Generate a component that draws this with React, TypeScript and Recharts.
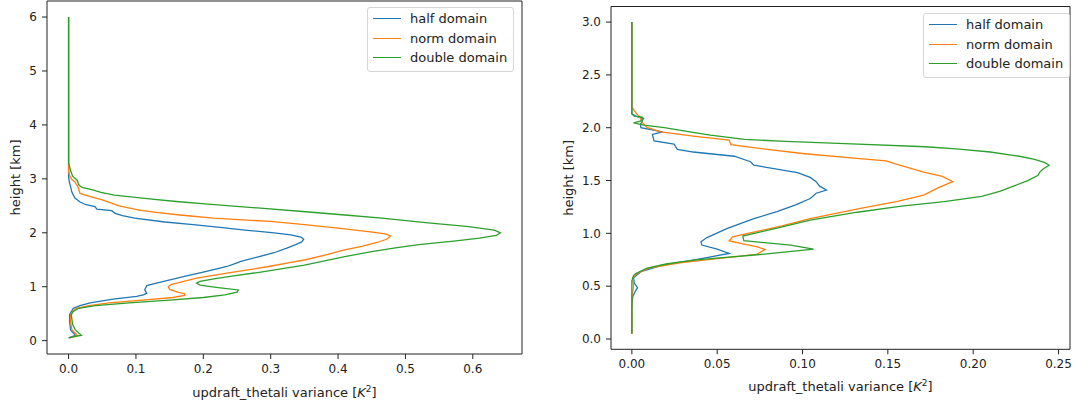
import React from "react";
import { ScatterChart, Scatter, XAxis, YAxis, ReferenceArea, Legend, Label } from "recharts";

// each point is [height km, variance K^2]
type Pt = [number, number];

const seriesNames = ["half domain", "norm domain", "double domain"];
const seriesColors = ["#1f77b4", "#ff7f0e", "#2ca02c"];

const leftHalf: Pt[] = [
  [0.05, 0.0], [0.1, 0.010], [0.2, 0.003], [0.35, 0.0015], [0.48, 0.0015], [0.54, 0.004],
  [0.6, 0.007], [0.65, 0.017], [0.7, 0.032], [0.77, 0.066], [0.82, 0.101], [0.85, 0.111],
  [0.88, 0.116], [0.94, 0.113], [1.02, 0.116], [1.08, 0.135], [1.13, 0.152], [1.19, 0.172],
  [1.28, 0.203], [1.375, 0.235], [1.42, 0.245], [1.47, 0.256], [1.55, 0.28], [1.63, 0.305],
  [1.715, 0.324], [1.78, 0.337], [1.83, 0.346], [1.88, 0.349], [1.92, 0.345], [1.96, 0.33],
  [2.0, 0.305], [2.05, 0.262], [2.1, 0.225], [2.15, 0.185], [2.2, 0.143], [2.27, 0.098],
  [2.32, 0.08], [2.36, 0.069], [2.41, 0.064], [2.44, 0.042], [2.485, 0.039], [2.52, 0.026],
  [2.57, 0.017], [2.65, 0.009], [2.75, 0.005], [2.85, 0.003], [2.95, 0.001], [3.05, 0.0],
  [6.0, 0.0],
];

const leftNorm: Pt[] = [
  [0.05, 0.002], [0.1, 0.013], [0.2, 0.005], [0.35, 0.003], [0.48, 0.003], [0.54, 0.006],
  [0.6, 0.012], [0.65, 0.03], [0.7, 0.06], [0.75, 0.11], [0.8, 0.155], [0.84, 0.172],
  [0.87, 0.172], [0.9, 0.162], [0.95, 0.15], [1.0, 0.148], [1.04, 0.152], [1.08, 0.165],
  [1.16, 0.19], [1.25, 0.235], [1.37, 0.295], [1.45, 0.33], [1.5, 0.352], [1.6, 0.385],
  [1.68, 0.408], [1.75, 0.435], [1.82, 0.458], [1.88, 0.472], [1.94, 0.478], [1.98, 0.47],
  [2.02, 0.445], [2.085, 0.4], [2.15, 0.35], [2.21, 0.3], [2.27, 0.215], [2.33, 0.165],
  [2.38, 0.13], [2.42, 0.105], [2.5, 0.075], [2.61, 0.05], [2.68, 0.03], [2.73, 0.017],
  [2.85, 0.014], [2.93, 0.01], [3.0, 0.004], [3.08, 0.001], [3.15, 0.0], [6.0, 0.0],
];

const leftDouble: Pt[] = [
  [0.05, 0.0], [0.1, 0.019], [0.2, 0.01], [0.3, 0.006], [0.48, 0.004], [0.54, 0.007],
  [0.6, 0.015], [0.65, 0.04], [0.7, 0.09], [0.75, 0.15], [0.8, 0.2], [0.85, 0.232],
  [0.9, 0.25], [0.94, 0.252], [0.98, 0.225], [1.03, 0.195], [1.067, 0.19], [1.1, 0.195],
  [1.15, 0.218], [1.2, 0.245], [1.28, 0.29], [1.4, 0.35], [1.56, 0.41], [1.65, 0.45],
  [1.72, 0.485], [1.78, 0.52], [1.85, 0.575], [1.9, 0.61], [1.95, 0.635], [2.0, 0.641],
  [2.05, 0.632], [2.115, 0.594], [2.19, 0.53], [2.27, 0.465], [2.33, 0.41], [2.39, 0.352],
  [2.46, 0.28], [2.53, 0.207], [2.58, 0.16], [2.63, 0.12], [2.7, 0.068], [2.75, 0.048],
  [2.79, 0.037], [2.84, 0.02], [2.89, 0.015], [2.97, 0.013], [3.05, 0.006], [3.15, 0.003],
  [3.25, 0.001], [3.3, 0.0], [6.0, 0.0],
];

const rightHalf: Pt[] = [
  [0.05, 0.0], [0.3, 0.0], [0.4, 0.0005], [0.45, 0.002], [0.486, 0.0033], [0.53, 0.0014],
  [0.58, 0.001], [0.637, 0.0053], [0.694, 0.017], [0.747, 0.036], [0.81, 0.057], [0.85, 0.05],
  [0.889, 0.041], [0.92, 0.0405], [0.96, 0.044], [1.047, 0.056], [1.14, 0.0715], [1.205, 0.085],
  [1.27, 0.096], [1.33, 0.1045], [1.38, 0.108], [1.41, 0.114], [1.447, 0.11], [1.49, 0.108],
  [1.53, 0.1045], [1.574, 0.097], [1.646, 0.0715], [1.678, 0.0695], [1.73, 0.06], [1.77, 0.036],
  [1.794, 0.0267], [1.845, 0.0247], [1.876, 0.013], [1.936, 0.012], [1.96, 0.018], [2.0, 0.0053],
  [2.03, 0.005], [2.088, 0.0068], [2.11, 0.0023], [2.13, 0.0], [3.0, 0.0],
];

const rightNorm: Pt[] = [
  [0.05, 0.0], [0.4, 0.0], [0.5, 0.001], [0.58, 0.0005], [0.62, 0.003], [0.67, 0.01],
  [0.72, 0.028], [0.76, 0.05], [0.8, 0.073], [0.848, 0.078], [0.874, 0.073], [0.9, 0.065],
  [0.93, 0.057], [0.968, 0.059], [1.0, 0.068], [1.07, 0.088], [1.14, 0.1045], [1.236, 0.134],
  [1.3, 0.155], [1.362, 0.171], [1.435, 0.18], [1.49, 0.188], [1.54, 0.182], [1.58, 0.171],
  [1.655, 0.155], [1.687, 0.149], [1.72, 0.125], [1.756, 0.1], [1.8, 0.077], [1.84, 0.058],
  [1.883, 0.057], [1.92, 0.036], [1.96, 0.017], [2.0, 0.009], [2.05, 0.006], [2.09, 0.005],
  [2.12, 0.0035], [2.16, 0.0015], [2.2, 0.0], [3.0, 0.0],
];

const rightDouble: Pt[] = [
  [0.05, 0.0], [0.55, 0.0], [0.6, 0.001], [0.62, 0.0023], [0.67, 0.009], [0.71, 0.02],
  [0.747, 0.036], [0.8, 0.075], [0.85, 0.1065], [0.889, 0.093], [0.93, 0.0656], [0.975, 0.065],
  [1.05, 0.085], [1.126, 0.1045], [1.2, 0.132], [1.258, 0.158], [1.3, 0.183], [1.35, 0.205],
  [1.4, 0.216], [1.45, 0.224], [1.5, 0.232], [1.55, 0.238], [1.58, 0.239], [1.61, 0.241],
  [1.645, 0.2445], [1.67, 0.242], [1.7, 0.236], [1.73, 0.227], [1.77, 0.21], [1.8, 0.19],
  [1.82, 0.172], [1.85, 0.125], [1.87, 0.09], [1.89, 0.066], [1.93, 0.046], [1.96, 0.034],
  [2.0, 0.019], [2.025, 0.007], [2.046, 0.001], [2.066, 0.006], [2.1, 0.006], [2.11, 0.0014],
  [2.135, 0.0], [3.0, 0.0],
];

const leftTicksX = [0, 0.1, 0.2, 0.3, 0.4, 0.5, 0.6];
const leftTicksY = [0, 1, 2, 3, 4, 5, 6];
const rightTicksX = [0, 0.05, 0.1, 0.15, 0.2, 0.25];
const rightTicksY = [0, 0.5, 1, 1.5, 2, 2.5, 3];

const xTitle = "updraft_thetali variance [";
const yTitle = "height [km]";

const INK = "#222";

// matplotlib-style autoscale: 5% margin on each side
function padded(vals: number[]): [number, number] {
  const lo = Math.min(...vals);
  const hi = Math.max(...vals);
  const m = (hi - lo) * 0.05;
  return [lo - m, hi + m];
}

function LegendBox() {
  return (
    <div
      style={{
        border: "1px solid #d5d5d5",
        borderRadius: 3,
        background: "rgba(255,255,255,0.8)",
        padding: "1px 6px 3px 5px",
        fontSize: 13,
        color: INK,
        whiteSpace: "nowrap",
      }}
    >
      {seriesNames.map((n, i) => (
        <div key={n} style={{ display: "flex", alignItems: "center", height: 19.5 }}>
          <div style={{ width: 28, borderTop: `1.5px solid ${seriesColors[i]}`, marginRight: 9 }} />
          <span>{n}</span>
        </div>
      ))}
    </div>
  );
}

interface PanelProps {
  series: Pt[][];
  xTicks: number[];
  yTicks: number[];
  xDigits: number;
  yDigits: number;
  width: number;
  height: number;
  margin: { top: number; right: number; bottom: number; left: number };
  yAxisWidth: number;
  xAxisHeight: number;
  yTitleX: number;
  xTitleGap: number;
  legendLeft: number;
  legendTop: number;
}

function Panel(p: PanelProps) {
  const all = p.series.flat();
  const xd = padded(all.map((d) => d[1]));
  const yd = padded(all.map((d) => d[0]));
  const plotLeft = p.margin.left + p.yAxisWidth;
  const plotRight = p.width - p.margin.right;
  const plotTop = p.margin.top;
  const plotBottom = p.height - p.margin.bottom - p.xAxisHeight;
  const cx = (plotLeft + plotRight) / 2;
  const cy = (plotTop + plotBottom) / 2;

  return (
    <ScatterChart width={p.width} height={p.height} margin={p.margin}>
      <XAxis
        type="number"
        dataKey="v"
        domain={xd}
        allowDataOverflow
        ticks={p.xTicks}
        interval={0}
        tickFormatter={(t: number) => t.toFixed(p.xDigits)}
        tick={{ fill: INK, fontSize: 12 }}
        tickLine={{ stroke: INK }}
        tickSize={5}
        tickMargin={5}
        axisLine={false}
        height={p.xAxisHeight}
      >
        <Label
          content={() => (
            <text x={cx} y={plotBottom + p.xTitleGap} textAnchor="middle" fontSize={13} fill={INK}>
              {xTitle}
              <tspan fontStyle="italic">K</tspan>
              <tspan dy={-5} fontSize={9}>2</tspan>
              <tspan dy={5}>]</tspan>
            </text>
          )}
        />
      </XAxis>
      <YAxis
        type="number"
        dataKey="h"
        domain={yd}
        allowDataOverflow
        ticks={p.yTicks}
        interval={0}
        tickFormatter={(t: number) => t.toFixed(p.yDigits)}
        tick={{ fill: INK, fontSize: 12 }}
        tickLine={{ stroke: INK }}
        tickSize={5}
        tickMargin={5}
        axisLine={false}
        width={p.yAxisWidth}
      >
        <Label
          content={() => (
            <text
              x={p.yTitleX}
              y={cy}
              transform={`rotate(-90, ${p.yTitleX}, ${cy})`}
              textAnchor="middle"
              dominantBaseline="central"
              fontSize={13}
              fill={INK}
            >
              {yTitle}
            </text>
          )}
        />
      </YAxis>
      {p.series.map((s, i) => (
        <Scatter
          key={seriesNames[i]}
          name={seriesNames[i]}
          data={s.map(([h, v]) => ({ h, v }))}
          fill={seriesColors[i]}
          line={{ stroke: seriesColors[i], strokeWidth: 1.3 }}
          shape={() => null}
          isAnimationActive={false}
        />
      ))}
      <ReferenceArea
        x1={xd[0]}
        x2={xd[1]}
        y1={yd[0]}
        y2={yd[1]}
        fill="none"
        stroke={INK}
        strokeWidth={1}
        ifOverflow="visible"
      />
      <Legend
        layout="vertical"
        verticalAlign="middle"
        align="center"
        wrapperStyle={{ left: p.legendLeft, top: p.legendTop, width: "auto" }}
        content={() => <LegendBox />}
      />
    </ScatterChart>
  );
}

export default function App() {
  return (
    <div
      style={{
        position: "absolute",
        left: 0,
        top: 0,
        width: 1075,
        height: 407,
        background: "#fff",
        fontFamily: "'DejaVu Sans', sans-serif",
      }}
    >
      <div style={{ position: "absolute", left: 0, top: 0 }}>
        <Panel
          series={[leftHalf, leftNorm, leftDouble]}
          xTicks={leftTicksX}
          yTicks={leftTicksY}
          xDigits={1}
          yDigits={0}
          width={540}
          height={407}
          margin={{ top: 1, right: 18, bottom: 0, left: 0 }}
          yAxisWidth={47}
          xAxisHeight={53}
          yTitleX={15.6}
          xTitleGap={42.5}
          legendLeft={367}
          legendTop={7}
        />
      </div>
      <div style={{ position: "absolute", left: 540, top: 0 }}>
        <Panel
          series={[rightHalf, rightNorm, rightDouble]}
          xTicks={rightTicksX}
          yTicks={rightTicksY}
          xDigits={2}
          yDigits={1}
          width={535}
          height={407}
          margin={{ top: 6.5, right: 5, bottom: 0, left: 0 }}
          yAxisWidth={71}
          xAxisHeight={57.7}
          yTitleX={28.3}
          xTitleGap={42}
          legendLeft={383}
          legendTop={13}
        />
      </div>
    </div>
  );
}
